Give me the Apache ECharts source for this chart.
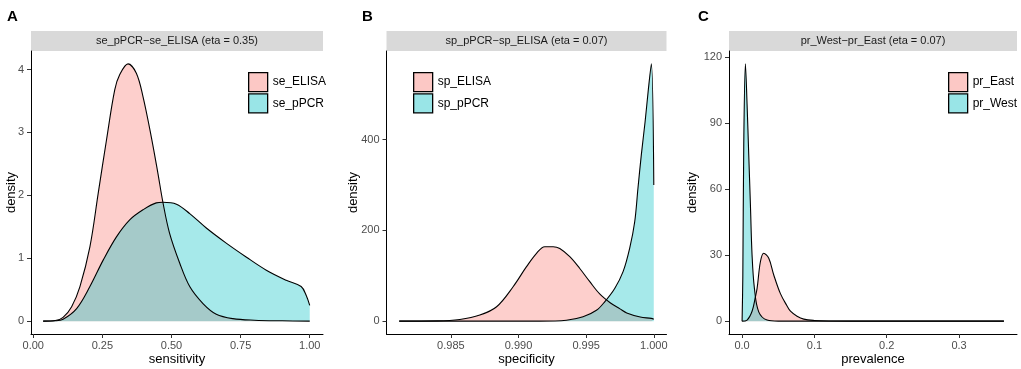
<!DOCTYPE html>
<html>
<head>
<meta charset="utf-8">
<script src="https://cdn.jsdelivr.net/npm/echarts@6/dist/echarts.min.js"></script>
<style>
  html, body { margin: 0; padding: 0; background: #fff; }
  #chart { width: 1021px; height: 369px; }
</style>
</head>
<body>
<div id="chart"></div>
<script>
// panel A: sensitivity densities
var seElisa = [[0.036,0],[0.08,0.01],[0.108,0.06],[0.139,0.23],[0.169,0.55],[0.205,1.18],[0.235,2.03],[0.265,2.88],[0.295,3.68],[0.313,3.92],[0.343,4.09],[0.373,3.94],[0.397,3.57],[0.427,2.93],[0.451,2.35],[0.469,1.89],[0.493,1.40],[0.530,0.92],[0.566,0.55],[0.614,0.28],[0.662,0.11],[0.722,0.04],[0.80,0.015],[0.90,0.005],[1.0,0]]
var sePpcr = [[0.036,0],[0.08,0.005],[0.108,0.03],[0.157,0.2],[0.205,0.55],[0.253,0.97],[0.301,1.34],[0.349,1.61],[0.397,1.77],[0.445,1.88],[0.469,1.89],[0.518,1.86],[0.566,1.71],[0.626,1.48],[0.698,1.24],[0.770,1.02],[0.843,0.81],[0.915,0.65],[0.969,0.55],[0.987,0.41],[1.0,0.25]]
// panel B: specificity densities
var spElisa = [[0.98118,0],[0.984,0.5],[0.98566,3.7],[0.98714,13.3],[0.98838,31.7],[0.9896,75.8],[0.99059,120],[0.99133,149.6],[0.99194,164],[0.99256,164],[0.99305,160],[0.99379,142],[0.99453,116],[0.99527,87],[0.99600,60],[0.99680,40],[0.99750,27],[0.99800,18],[0.99900,9],[0.99982,6],[1.0,4]]
var spPpcr = [[0.98118,0],[0.99157,0],[0.99354,2],[0.99477,9.6],[0.99576,24],[0.99637,42.6],[0.99711,72],[0.99773,109],[0.99822,161],[0.99859,219],[0.99883,293],[0.99908,367],[0.99936,440],[0.99961,514],[0.99982,567],[1.0,300]]
// panel C: prevalence densities
var prEast = [[0,0],[0.0069,0.5],[0.0138,4.5],[0.0184,11],[0.0208,15],[0.0253,27],[0.0299,30.9],[0.0369,28.6],[0.0438,21],[0.053,12.5],[0.062,7],[0.0669,4.5],[0.076,2.2],[0.0853,0.9],[0.1,0.3],[0.12,0.05],[0.15,0],[0.362,0]]
var prWest = [[0,0],[0.001,20],[0.0023,80],[0.0046,117],[0.0069,98.5],[0.0092,75.7],[0.0115,53],[0.0138,30],[0.017,15],[0.023,4.2],[0.0346,0.5],[0.05,0],[0.362,0]]

var xTicksA = [0, 0.25, 0.5, 0.75, 1]
var yTicksA = [0, 1, 2, 3, 4]
var xTicksB = [0.985, 0.99, 0.995, 1]
var yTicksB = [0, 200, 400]
var xTicksC = [0, 0.1, 0.2, 0.3]
var yTicksC = [0, 30, 60, 90, 120]

var pink = 'rgba(248,118,109,0.35)'
var teal = 'rgba(0,191,196,0.35)'
var font = '"Liberation Sans", Arial, Helvetica, sans-serif'

var chartDom = document.getElementById('chart')
var myChart = echarts.init(chartDom)

var grids = [
    {left: 31, top: 51, width: 292, height: 283, outerBoundsMode: 'none'},
    {left: 386.5, top: 51, width: 280, height: 283, outerBoundsMode: 'none'},
    {left: 729, top: 51, width: 288, height: 283, outerBoundsMode: 'none'}
]

function xAx(idx, min, max, ticks, dec, name, gap){
    return {
        type: 'value', gridIndex: idx, min: min, max: max,
        name: name, nameLocation: 'middle', nameGap: gap, nameMoveOverlap: false,
        nameTextStyle: {fontFamily: font, fontSize: 13, color: '#000'},
        axisLine: {show: true, onZero: false, lineStyle: {color: '#000', width: 1}},
        axisTick: {show: true, length: 4, customValues: ticks, lineStyle: {color: '#333'}},
        axisLabel: {customValues: ticks, margin: 6, fontFamily: font, fontSize: 11, color: '#4d4d4d',
            formatter: function(v){ return v.toFixed(dec) }},
        splitLine: {show: false}
    }
}
function yAx(idx, min, max, ticks, gap){
    return {
        type: 'value', gridIndex: idx, min: min, max: max,
        name: 'density', nameLocation: 'middle', nameGap: gap, nameRotate: 90, nameMoveOverlap: false,
        nameTextStyle: {fontFamily: font, fontSize: 13, color: '#000'},
        axisLine: {show: true, onZero: false, lineStyle: {color: '#000', width: 1}},
        axisTick: {show: true, length: 4, customValues: ticks, lineStyle: {color: '#333'}},
        axisLabel: {customValues: ticks, margin: 7, fontFamily: font, fontSize: 11, color: '#4d4d4d'},
        splitLine: {show: false}
    }
}
function dens(name, idx, data, color){
    return {
        name: name, type: 'line', xAxisIndex: idx, yAxisIndex: idx,
        data: data, smooth: 0.35, symbol: 'none',
        lineStyle: {color: '#000', width: 1.1},
        itemStyle: {color: color},
        areaStyle: {color: color, opacity: 1},
        silent: true
    }
}
function leg(left, top, names){
    return {
        left: left, top: top, orient: 'vertical', itemGap: 1,
        itemWidth: 19, itemHeight: 19, icon: 'rect', selectedMode: false,
        textStyle: {fontFamily: font, fontSize: 12, color: '#000'},
        data: [
            {name: names[0], itemStyle: {color: 'rgba(248,118,109,0.4)', borderColor: '#000', borderWidth: 1.3}},
            {name: names[1], itemStyle: {color: 'rgba(0,191,196,0.4)', borderColor: '#000', borderWidth: 1.3}}
        ]
    }
}
function strip(g, label){
    return [
        {type: 'rect', shape: {x: g.left, y: 31, width: g.width, height: 20}, style: {fill: '#d9d9d9'}, silent: true},
        {type: 'text', x: g.left + g.width / 2, y: 41, style: {text: label, fontFamily: font, fontSize: 11, fill: '#1a1a1a', align: 'center', verticalAlign: 'middle'}, silent: true}
    ]
}
function letter(x, txt){
    return {type: 'text', x: x, y: 9, style: {text: txt, fontFamily: font, fontSize: 15, fontWeight: 'bold', fill: '#000'}, silent: true}
}

var option = {
    animation: false,
    backgroundColor: '#fff',
    grid: grids,
    xAxis: [
        xAx(0, -0.008, 1.048, xTicksA, 2, 'sensitivity', 19),
        xAx(1, 0.98024, 1.00094, xTicksB, 3, 'specificity', 19),
        xAx(2, -0.0181, 0.3801, xTicksC, 1, 'prevalence', 19)
    ],
    yAxis: [
        yAx(0, -0.2045, 4.2945, yTicksA, 13),
        yAx(1, -28.35, 595.35, yTicksB, 27),
        yAx(2, -5.85, 122.85, yTicksC, 30)
    ],
    legend: [
        leg(243, 67, ['se_ELISA', 'se_pPCR']),
        leg(408, 67, ['sp_ELISA', 'sp_pPCR']),
        leg(943, 67, ['pr_East', 'pr_West'])
    ],
    series: [
        dens('se_ELISA', 0, seElisa, pink),
        dens('se_pPCR', 0, sePpcr, teal),
        dens('sp_ELISA', 1, spElisa, pink),
        dens('sp_pPCR', 1, spPpcr, teal),
        dens('pr_East', 2, prEast, pink),
        dens('pr_West', 2, prWest, teal)
    ],
    graphic: [].concat(
        strip(grids[0], 'se_pPCR\u2212se_ELISA (eta = 0.35)'),
        strip(grids[1], 'sp_pPCR\u2212sp_ELISA (eta = 0.07)'),
        strip(grids[2], 'pr_West\u2212pr_East (eta = 0.07)'),
        [letter(7, 'A'), letter(362, 'B'), letter(698, 'C')]
    )
}

option && myChart.setOption(option)
</script>
</body>
</html>
